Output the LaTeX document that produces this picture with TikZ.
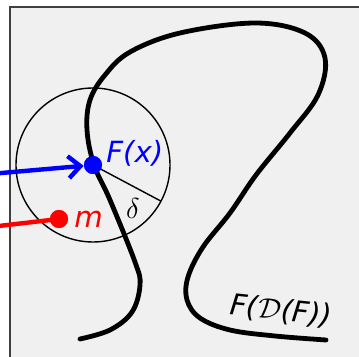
\documentclass[tikz,border=0pt]{standalone}
\usepackage{fontspec}
\setmainfont{DejaVu Sans}
\usepackage{tikz}
\usetikzlibrary{positioning,arrows.meta,calc}
\definecolor{panel}{HTML}{F0F0F0}
\definecolor{frame}{HTML}{404040}
\definecolor{ptblue}{HTML}{0000FF}
\definecolor{ptred}{HTML}{FF0000}
\newcommand{\lbl}{\fontsize{14.6}{17}\selectfont\itshape}

\begin{document}
\begin{tikzpicture}[x=0.5pt,y=-0.5pt,
    dot/.style={circle,inner sep=0pt,minimum size=9pt},
    curve/.style={line width=2.4pt,line cap=round},
    feed/.style={line width=2.2pt}]
  \useasboundingbox (0,0) rectangle (359,357);
  \clip (0,0) rectangle (359,357);
  \fill[white] (0,0) rectangle (359,357);
  \draw[frame,fill=panel,line width=0.8pt] (10,7) rectangle (380,380);
  \def\rad{77}
  \node[dot,fill=ptblue] (fx) at (93,165) {};
  \node[dot,fill=ptred] (m) at (59,219) {};
  \draw[line width=0.7pt] (fx.center) circle[radius=\rad];
  \coordinate (rim) at ($(fx.center)+(28:\rad)$);
  \draw[line width=0.7pt] (fx.center) -- (rim);
  \draw[curve] plot[smooth,tension=0.6] coordinates {
    (80,339) (110,330) (132,312) (140,285) (135,262) (110,200) (94,165)
    (87,130) (90,100) (105,75) (130,52) (180,33) (255,23) (305,33)
    (325,58) (318,95) (290,133) (256,175) (230,213) (203,247) (188,277)
    (187,300) (200,318) (230,330) (275,336) (326,340)};
  \node[dot,fill=ptblue] at (fx) {};
  \node[dot,fill=ptred] at (m) {};
  \coordinate (bluein) at (-10,174);
  \coordinate (redin) at (-10,227);
  \draw[ptblue,feed,-{Straight Barb[length=6pt,width=11pt]}] (bluein) -- (fx);
  \draw[ptred,feed] (redin) -- (m.center);
  \node[anchor=west,inner sep=0pt,text=ptblue] (fxlbl) at (106,153) {\lbl F(x)};
  \node[anchor=west,inner sep=0pt,text=ptred] (mlbl) at (74,219) {\lbl m};
  \node[inner sep=0pt] (dlbl) at (133,209) {\fontsize{14.6}{17}\selectfont$\delta$};
  \node[inner sep=0pt,rotate=-6] (flbl) at (281,311) {\lbl F(\upshape$\mathcal{D}$\itshape(F))};
\end{tikzpicture}
\end{document}
